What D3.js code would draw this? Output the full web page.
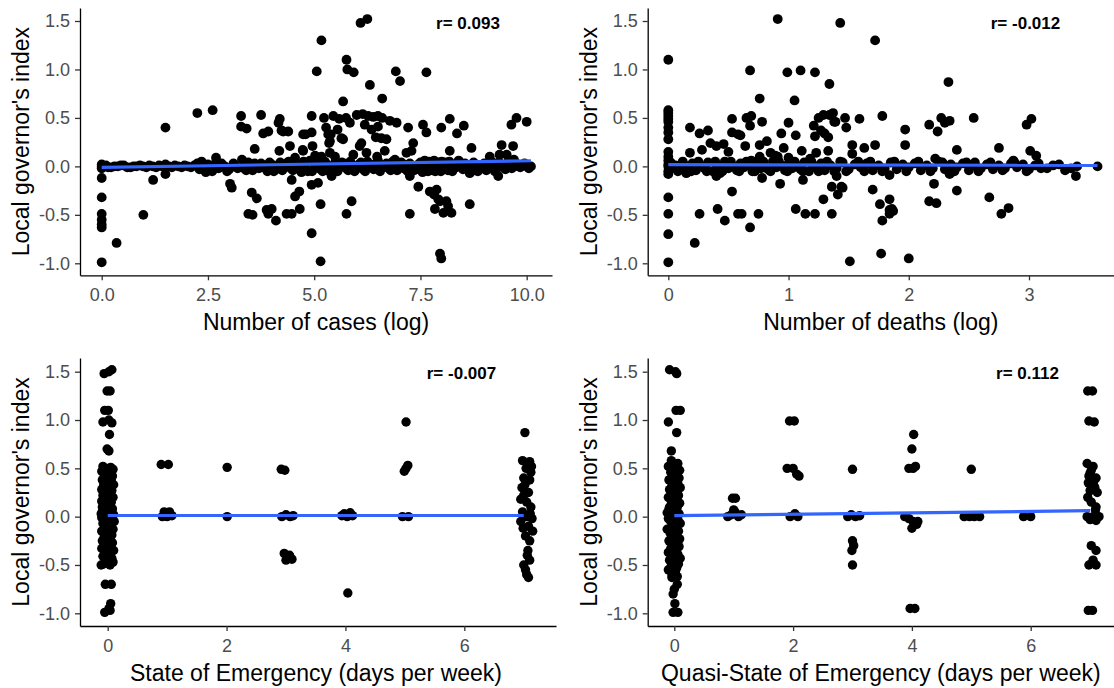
<!DOCTYPE html>
<html><head><meta charset="utf-8">
<script src="https://cdn.jsdelivr.net/npm/d3@7"></script>
<style>body{margin:0;background:#fff} text{font-family:"Liberation Sans",Arial,sans-serif}</style>
</head><body><svg id="c" width="1114" height="688"></svg>
<script>
// ---------- DATA ----------
const yTicks = [-1, -0.5, 0, 0.5, 1, 1.5];
const yTickLabels = ["-1.0", "-0.5", "0.0", "0.5", "1.0", "1.5"];
const xTicks1 = [0, 2.5, 5, 7.5, 10];
const xTickLabels1 = ["0.0", "2.5", "5.0", "7.5", "10.0"];
const xTicks2 = [0, 1, 2, 3];
const xTickLabels2 = ["0", "1", "2", "3"];
const xTicks34 = [0, 2, 4, 6];
const xTickLabels34 = ["0", "2", "4", "6"];
const xTitles = ["Number of cases (log)", "Number of deaths (log)", "State of Emergency (days per week)", "Quasi-State of Emergency (days per week)"];
const yTitle = "Local governor's index";
const rLabels = ["r= 0.093", "r= -0.012", "r= -0.007", "r= 0.112"];

// fitted lm lines [x, y] endpoints
const fit1 = [[0, -0.01], [10.1, 0.058]];
const fit2 = [[0, 0.018], [3.57, 0.01]];
const fit3 = [[0, 0.012], [7.0, 0.012]];
const fit4 = [[0, 0.01], [7.0, 0.062]];

// Panel 1: cases (log)
const p1Points = [
[0,-0.12],[0,-0.32],[0,-0.49],[0,-0.55],[0,-0.6],[0,-0.63],[0,-0.99],
[0.35,-0.79],[0.98,-0.5],[1.21,-0.14],[1.5,0.4],[1.5,-0.08],
[2.25,0.55],[2.61,0.58],[2.69,0.09],[3.02,-0.18],[3.06,-0.22],
[3.28,0.52],[3.28,0.41],[3.41,0.39],[3.45,-0.49],[3.55,-0.5],
[3.53,-0.27],[3.65,-0.33],[3.6,0.18],[3.75,0.53],[3.8,0.34],[3.92,0.36],
[3.88,-0.45],[3.92,-0.49],[4.0,-0.44],[4.1,-0.56],
[4.19,0.49],[4.16,0.45],[4.23,0.37],[4.39,0.36],[4.43,0.21],[4.18,0.16],[4.55,0.09],[4.73,0.17],[4.74,0.33],[4.74,0.16],[4.8,0.33],[4.94,0.35],[4.94,0.52],[4.96,0.21],[5.02,0.11],
[5.06,0.98],[5.17,1.3],[5.23,0.5],[5.39,0.33],[5.35,0.24],[5.45,0.52],[5.59,0.49],[5.75,0.5],[5.49,0.10],[5.68,0.67],[5.68,0.28],[5.76,1.10],[5.78,1.0],[5.93,0.97],[5.88,-0.36],[5.76,-0.49],[5.92,0.12],[6.11,0.24],[6.07,0.21],[6.09,1.48],[6.25,1.52],[6.31,0.84],[6.0,0.53],[6.14,0.54],[6.27,0.52],[6.39,0.51],[5.84,0.45],[6.19,0.43],[6.6,0.70],
[4.94,-0.19],[5.15,-0.39],[4.94,-0.69],[5.15,-0.98],[4.66,-0.44],[4.55,-0.31],[4.65,-0.26],[4.35,-0.49],[4.47,-0.49],[4.47,-0.14],[5.09,-0.17],[5.41,-0.10],
[6.92,0.98],[7.02,0.88],[7.64,0.97],[6.5,0.52],[6.6,0.5],[6.78,0.47],[6.94,0.45],[6.5,0.41],[6.58,0.29],[6.7,0.28],[7.21,0.40],[7.56,0.43],[7.64,0.35],[7.99,0.40],[8.19,0.49],[8.36,0.34],[8.52,0.42],[7.33,0.24],[7.17,0.14],[7.29,0.16],[8.19,0.16],[8.7,0.19],[9.41,0.22],[9.53,0.12],[9.68,0.21],[9.64,0.43],[9.76,0.50],[10.0,0.46],[9.33,-0.10],[8.66,-0.07],[8.66,-0.39],[7.25,-0.10],[7.45,-0.21],[7.25,-0.49],[7.72,-0.26],[7.82,-0.29],[7.88,-0.24],[7.84,-0.44],[7.92,-0.34],[7.96,-0.36],[8.04,-0.48],[8.15,-0.41],[8.23,-0.48],[8.11,-0.36],[7.96,-0.90],[7.99,-0.95],
[5.33,0.33],[5.37,0.26],[5.64,0.29],[5.37,0.14],[5.17,0.10],[6.48,0.10],[6.66,0.16],[6.9,0.07],[6.23,0.14],[9.13,0.10],[9.36,0.12],[4.27,0.36],[5.28,0.4],[5.55,0.38],[6.35,0.38],[6.45,0.3]
];
const p1Band = [
[0,0.02],[0,0],[0,-0.02],[0.05,0.0],[0.15,-0.01],[0.3,0.0],[0.45,0.01],[0.6,-0.01],[0.75,0.0],[0.9,0.01],[1.05,-0.01],[1.2,0.0],[1.35,0.01],[1.5,0.02],[1.65,-0.01],[1.8,0.0],[1.95,0.01],[2.1,-0.01],[2.25,0.03],[2.35,0.05],[2.45,-0.06],[2.55,-0.03],[2.65,0.02],[2.75,-0.02],[2.9,0.0],[3.0,-0.03],[3.1,0.03],[3.2,-0.02],[3.3,0.07],[3.4,-0.04],[3.5,0.0],[3.6,0.03],[3.7,-0.02],[3.8,0.01],[3.9,-0.05],[4.0,0.02],[4.1,-0.03],[4.2,0.04],[4.3,-0.01],[4.4,0.05],[4.5,-0.04],[4.6,0.01],[4.7,-0.06],[4.8,0.03],[4.85,-0.05],[4.9,0.06],[5.0,-0.02],[5.1,0.04],[5.2,-0.05],[5.3,0.02],[5.4,-0.03],[5.5,0.05],[5.6,-0.01],[5.7,0.03],[5.8,-0.04],[5.9,0.01],[6.0,-0.02],[6.1,0.04],[6.2,-0.05],[6.3,0.02],[6.4,-0.03],[6.5,0.06],[6.6,-0.01],[6.7,0.03],[6.8,-0.04],[6.9,0.01],[7.0,-0.02],[7.1,0.02],[7.2,-0.05],[7.3,0.0],[7.4,-0.03],[7.5,0.04],[7.55,-0.06],[7.6,0.06],[7.65,-0.04],[7.7,0.05],[7.75,-0.02],[7.8,0.03],[7.85,-0.05],[7.9,0.02],[7.95,-0.03],[8.0,0.05],[8.05,-0.01],[8.1,0.03],[8.15,-0.04],[8.2,0.01],[8.3,-0.02],[8.4,0.06],[8.5,-0.03],[8.6,0.0],[8.7,-0.05],[8.8,0.02],[8.9,-0.02],[9.0,0.03],[9.1,-0.01],[9.2,0.04],[9.3,-0.02],[9.4,0.01],[9.5,-0.03],[9.6,0.02],[9.7,0.07],[9.8,0.0],[9.9,0.01],[10.0,0.0],[10.1,0.0]
];
const p1Band2 = [
[0.1,0.01],[0.22,-0.01],[0.38,0.0],[0.52,0.01],[0.68,-0.01],[0.82,0.0],[0.97,0.0],[1.12,0.01],[1.28,-0.01],[1.42,0.0],[1.58,0.0],[1.72,0.01],[1.88,-0.01],[2.02,0.0],[2.18,0.01],[2.3,-0.03],[2.5,0.02],[2.6,-0.05],[2.82,0.03],[2.95,-0.05],[3.15,0.0],[3.35,-0.02],[3.45,0.04],[3.55,-0.04],[3.75,0.03],[3.85,-0.02],[3.95,0.04],[4.05,-0.05],[4.15,0.01],[4.25,-0.04],[4.35,0.03],[4.45,-0.02],[4.55,0.03],[4.65,-0.03],[4.75,0.05],[4.95,-0.05],[5.05,0.03],[5.15,-0.03],[5.25,0.05],[5.35,-0.05],[5.45,0.0],[5.55,-0.05],[5.65,0.04],[5.75,-0.02],[5.85,0.05],[5.95,-0.05],[6.05,0.02],[6.15,-0.03],[6.25,0.05],[6.35,-0.01],[6.45,0.03],[6.55,-0.05],[6.65,0.01],[6.75,-0.02],[6.85,0.05],[6.95,-0.04],[7.05,0.04],[7.15,-0.03],[7.25,0.03],[7.35,-0.04],[7.45,0.02],[7.52,0.0],[7.58,-0.02],[7.62,0.02],[7.68,-0.05],[7.72,0.01],[7.78,-0.04],[7.82,0.06],[7.88,-0.01],[7.92,0.04],[7.98,-0.05],[8.02,0.01],[8.08,0.04],[8.12,-0.02],[8.18,0.05],[8.25,-0.05],[8.35,0.03],[8.45,-0.01],[8.55,0.03],[8.65,-0.03],[8.75,0.04],[8.85,-0.05],[8.95,0.01],[9.05,-0.04],[9.15,0.02],[9.25,-0.05],[9.35,0.04],[9.45,-0.01],[9.55,0.04],[9.65,-0.02],[9.75,0.03],[9.85,-0.01],[9.95,0.03],[10.05,-0.02]
];

// Panel 2: deaths (log)
const p2Points = [
[0,1.1],[0,0.58],[0,0.55],[0,0.52],[0,0.49],[0,0.46],[0,0.4],[0,0.35],[0,0.28],[0,0.15],[0,0.1],[0,0.06],[0,-0.05],[0,-0.08],[0,-0.32],[0,-0.49],[0,-0.7],[0,-0.99],
[0.18,0.40],[0.18,0.14],[0.22,-0.79],[0.15,-0.07],[0.26,0.34],[0.33,0.37],[0.28,0.17],[0.35,0.24],[0.26,-0.49],[0.41,-0.44],[0.47,-0.56],[0.40,0.21],[0.46,0.23],[0.53,0.49],[0.53,0.35],[0.58,0.33],[0.6,0.32],[0.53,-0.26],[0.58,-0.49],[0.61,-0.49],[0.64,0.21],[0.65,0.50],[0.69,0.52],[0.68,0.42],[0.68,0.99],[0.68,-0.63],[0.76,0.70],[0.78,0.46],[0.75,-0.49],[0.82,0.26],[0.76,0.22],[0.76,0.10],[0.69,0.06],[0.89,0.11],[0.91,1.52],[0.93,-0.18],[0.94,0.34],[0.99,0.97],[1.10,0.99],[1.22,0.97],[1.05,0.68],[1.0,0.45],[1.06,0.32],[0.96,0.19],[1.06,-0.44],[1.14,-0.49],[1.22,-0.49],[1.11,0.16],[1.12,-0.14],[0.91,0.10],[1.0,0.09],[1.21,0.42],[1.25,0.50],[1.22,0.31],[1.23,0.14],[1.29,-0.34],[1.34,0.85],[1.36,-0.49],[1.29,0.53],[1.34,0.53],[1.37,0.55],[1.36,-0.21],[1.27,0.37],[1.30,0.34],[1.33,0.30],[1.33,0.16],[1.39,0.46],[1.47,0.50],[1.48,0.40],[1.59,0.49],[1.53,0.22],[1.53,0.13],[1.63,0.19],[1.72,0.22],[1.78,0.52],[1.41,-0.29],[1.44,-0.21],[1.40,-0.10],[1.51,-0.98],[1.70,-0.24],[1.76,-0.39],[1.78,-0.56],[1.77,-0.90],[1.84,-0.34],[1.84,-0.45],[1.87,-0.46],[1.84,-0.49],[1.84,-0.09],[0.40,-0.10],[0.43,-0.07],[0.78,-0.12],[1.43,1.48],[1.72,1.30],[2.33,0.87],[1.97,0.38],[1.97,0.22],[2.17,0.43],[2.24,0.36],[2.27,0.50],[2.30,0.45],[2.34,0.47],[2.54,0.50],[2.40,0.17],[2.75,0.19],[2.98,0.43],[3.02,0.49],[3.01,0.16],[3.06,0.11],[2.87,0.06],[2.0,-0.95],[2.21,-0.18],[2.17,-0.36],[2.23,-0.38],[2.40,-0.25],[2.67,-0.32],[2.77,-0.49],[2.83,-0.43],[3.39,-0.10],[3.57,0.0],[1.86,-0.44],[2.34,-0.08],[1.45,-0.22],[1.38,0.46],[0.5,0.15],[0.85,0.14],[1.18,0.08],[2.22,0.08],[2.55,0.04]
];
const p2Band = [
[0,0.0],[0,0.02],[0.03,-0.02],[0.06,0.01],[0.1,-0.03],[0.13,0.02],[0.17,-0.01],[0.2,0.03],[0.23,-0.04],[0.27,0.01],[0.3,-0.02],[0.33,0.04],[0.37,-0.05],[0.4,0.02],[0.43,-0.03],[0.47,0.05],[0.5,-0.02],[0.53,0.01],[0.57,-0.04],[0.6,0.03],[0.63,-0.01],[0.67,0.02],[0.7,-0.05],[0.73,0.04],[0.77,-0.02],[0.8,0.01],[0.83,-0.03],[0.87,0.05],[0.9,-0.01],[0.93,0.02],[0.97,-0.04],[1.0,0.03],[1.03,-0.02],[1.07,0.01],[1.1,-0.03],[1.13,0.04],[1.17,-0.05],[1.2,0.02],[1.23,-0.01],[1.27,0.03],[1.3,-0.04],[1.35,0.01],[1.4,-0.02],[1.45,0.04],[1.5,-0.03],[1.55,0.02],[1.6,-0.01],[1.65,0.03],[1.7,-0.04],[1.75,0.01],[1.8,-0.02],[1.85,0.04],[1.9,-0.03],[1.95,0.02],[2.0,-0.01],[2.05,0.03],[2.1,-0.04],[2.15,0.01],[2.2,-0.02],[2.25,0.05],[2.3,-0.03],[2.35,0.02],[2.4,-0.01],[2.45,0.03],[2.5,-0.04],[2.55,0.01],[2.6,-0.02],[2.65,0.02],[2.7,-0.03],[2.75,0.01],[2.8,-0.02],[2.85,0.03],[2.9,-0.01],[2.95,0.02],[3.0,-0.03],[3.05,0.01],[3.1,-0.02],[3.2,0.01],[3.3,-0.04],[3.4,0.0]
];
const p2Band2 = [
[0.02,0.04],[0.08,-0.05],[0.12,0.05],[0.19,-0.05],[0.25,0.05],[0.32,-0.05],[0.39,0.05],[0.45,-0.05],[0.52,0.05],[0.59,-0.05],[0.65,0.05],[0.72,-0.05],[0.79,0.05],[0.85,-0.05],[0.92,0.05],[0.99,-0.05],[1.05,0.05],[1.12,-0.05],[1.19,0.05],[1.25,-0.05],[1.32,0.05],[1.38,-0.05],[1.43,0.05],[1.48,-0.05],[1.58,0.05],[1.63,-0.05],[1.68,0.05],[1.78,-0.05],[1.88,0.05],[1.98,-0.05],[2.08,0.05],[2.18,-0.05],[2.28,0.04],[2.38,-0.05],[2.48,0.04],[2.58,-0.05],[2.68,0.04],[2.78,-0.04],[2.88,0.04],[2.98,-0.05],[3.08,0.03],[3.15,-0.02],[3.25,0.02],[3.35,-0.02]
];

// Panel 3: State of Emergency (jittered)
const p3Points = [
[-0.06,1.48],[0.02,1.5],[0.07,1.52],[-0.01,1.3],[0.04,1.3],[-0.05,1.1],[0.01,1.1],[-0.08,0.98],[0.02,1.0],[0.07,0.97],[0.03,0.85],[0.02,0.68],[-0.01,0.7],[-0.04,-0.7],[0.06,-0.7],[0.05,-0.9],[0.02,-0.95],[-0.05,-0.99],[0.04,-0.97],
[0.9,0.54],[1.02,0.54],[0.92,0.0],[0.98,0.02],[1.04,0.05],[1.08,0.01],[0.95,0.05],[1.0,0.0],
[2.01,0.51],[2.01,0.0],
[2.92,0.49],[2.98,0.48],[2.93,0.0],[3.0,0.02],[3.07,0.0],[3.12,0.01],[2.97,-0.38],[3.06,-0.4],[3.0,-0.45],[3.1,-0.44],
[3.94,0.01],[3.98,0.03],[4.03,0.0],[4.08,0.04],[4.12,0.01],[4.04,-0.79],
[5.02,0.98],[5.05,0.53],[4.99,0.47],[5.02,0.5],[4.96,0.0],[5.06,0.0],
[7.02,0.87],[6.98,0.58],[7.1,0.57],[7.04,0.5],[7.12,0.46],[7.0,0.4],[7.1,0.38],[6.97,0.3],[7.08,0.25],[6.95,0.18],[7.05,0.15],[7.12,0.1],[6.98,0.05],[7.05,0.0],[7.14,-0.02],[6.95,-0.05],[7.08,-0.1],[7.15,-0.15],[7.03,-0.2],[7.1,-0.25],[7.07,-0.35],[7.1,-0.45],[7.03,-0.55],[7.05,-0.6],[7.08,-0.63],
[7.0,0.22],[7.11,0.03],[6.99,-0.12],[7.13,0.52],[7.02,0.33],[7.06,-0.4],[7.0,-0.5]
];
const p3Column = [
[-0.08,0.52],[0.05,0.51],[-0.02,0.5],[0.09,0.49],[-0.1,0.47],[0.03,0.46],[-0.06,0.44],[0.08,0.42],[0.0,0.4],[-0.09,0.38],[0.06,0.37],[-0.03,0.35],[0.1,0.33],[-0.07,0.32],[0.02,0.3],[-0.1,0.28],[0.07,0.27],[-0.04,0.25],[0.04,0.23],[-0.08,0.22],[0.09,0.2],[-0.01,0.18],[-0.1,0.16],[0.06,0.15],[-0.05,0.13],[0.03,0.11],[-0.09,0.1],[0.08,0.08],[-0.03,0.06],[0.05,0.05],[-0.11,0.03],[0.1,0.02],[-0.06,0.01],[0.02,0.0],[-0.1,-0.01],[0.07,-0.02],[-0.02,-0.04],[0.11,-0.05],[-0.08,-0.07],[0.04,-0.09],[-0.05,-0.11],[0.09,-0.13],[-0.1,-0.15],[0.01,-0.17],[0.07,-0.19],[-0.06,-0.21],[0.03,-0.23],[-0.09,-0.25],[0.08,-0.27],[-0.03,-0.29],[0.05,-0.31],[-0.1,-0.33],[0.1,-0.35],[-0.05,-0.37],[0.02,-0.39],[-0.08,-0.41],[0.07,-0.43],[-0.02,-0.45],[0.09,-0.47],[-0.07,-0.49],[0.04,-0.5],[-0.11,-0.5],
[0.0,0.48],[0.01,0.36],[0.0,0.21],[0.02,0.09],[-0.01,-0.03],[0.0,-0.16],[-0.02,-0.28],[0.01,-0.4],
[-0.06,0.0],[0.06,0.03],[-0.04,0.02],[0.04,-0.01],[-0.09,0.05],[0.08,-0.03]
];

// Panel 4: Quasi-State of Emergency (jittered)
const p4Points = [
[-0.08,1.52],[0.02,1.5],[0.04,1.48],[0.1,1.1],[0.03,1.1],[-0.1,0.98],[0.04,0.87],[-0.05,0.68],[-0.04,-0.63],[0.05,-0.7],[-0.02,-0.8],[0.01,-0.9],[0.06,-0.99],[-0.02,-0.99],[0.0,-0.75],
[0.98,0.19],[1.03,0.19],[0.9,0.0],[0.96,0.02],[1.02,0.05],[1.08,0.0],[1.13,0.02],[1.0,0.07],
[1.94,0.99],[2.02,0.99],[1.9,0.5],[2.0,0.5],[2.06,0.44],[2.1,0.42],[1.95,0.0],[2.03,0.03],[2.08,0.0],
[3.0,0.49],[2.92,0.0],[2.98,0.02],[3.05,0.0],[3.12,0.01],[3.0,-0.25],[3.02,-0.3],[2.99,-0.35],[3.0,-0.5],
[4.03,0.85],[4.0,0.7],[3.95,0.5],[4.02,0.5],[4.06,0.52],[3.88,0.0],[3.95,-0.02],[4.02,-0.05],[4.08,-0.08],[4.0,-0.12],[4.1,-0.05],[3.97,-0.95],[4.05,-0.95],
[5.0,0.49],[4.88,0.0],[4.97,0.0],[5.05,0.0],[5.14,0.0],
[5.88,0.0],[6.0,0.0],
[6.96,1.3],[7.04,1.3],[6.98,0.99],[7.07,0.98],[6.95,0.55],[7.05,0.52],[7.0,0.45],[7.1,0.4],[6.97,0.35],[7.08,0.3],[7.12,0.25],[6.96,0.2],[7.02,0.15],[7.1,0.1],[6.95,0.0],[7.05,0.0],[7.15,0.0],[7.0,-0.03],[7.1,-0.04],[7.02,-0.3],[7.1,-0.35],[7.05,-0.45],[6.98,-0.5],[7.1,-0.5],[6.97,-0.97],[7.04,-0.97],
[7.02,0.48],[6.98,0.42],[7.06,0.36],[7.0,0.27],[7.09,0.07]
];
const p4Column = [
[-0.05,0.58],[0.06,0.55],[-0.1,0.52],[0.02,0.5],[0.09,0.48],[-0.06,0.46],[0.04,0.44],[-0.02,0.42],[0.08,0.4],[-0.09,0.38],[0.01,0.36],[0.06,0.34],[-0.04,0.32],[0.1,0.3],[-0.08,0.28],[0.03,0.26],[-0.01,0.24],[0.07,0.22],[-0.1,0.2],[0.04,0.18],[-0.05,0.16],[0.09,0.14],[-0.02,0.12],[0.05,0.1],[-0.09,0.08],[0.02,0.06],[-0.12,0.04],[0.08,0.03],[-0.04,0.02],[0.0,0.0],[-0.1,-0.02],[0.06,-0.03],[-0.06,-0.05],[0.1,-0.07],[-0.02,-0.09],[0.04,-0.11],[-0.12,-0.13],[0.07,-0.15],[-0.07,-0.17],[0.02,-0.19],[-0.03,-0.21],[0.09,-0.23],[-0.09,-0.25],[0.05,-0.27],[-0.01,-0.29],[0.08,-0.31],[-0.06,-0.33],[0.03,-0.35],[-0.1,-0.37],[0.06,-0.39],[-0.03,-0.41],[0.1,-0.43],[-0.08,-0.45],[0.01,-0.47],[0.07,-0.49],[-0.05,-0.51],[0.04,-0.53],[-0.1,-0.55],[0.02,-0.57],[-0.04,-0.6],[0.05,-0.62],
[0.0,0.52],[0.01,0.38],[-0.01,0.25],[0.0,0.13],[0.02,-0.01],[-0.01,-0.12],[0.0,-0.24],[0.01,-0.36],[-0.02,-0.48],
[-0.07,0.0],[0.07,0.02],[-0.04,-0.01],[0.04,0.05],[-0.08,0.1],[0.05,-0.05]
];

// ---------- DRAW ----------
const svg = d3.select('#c');
svg.append('rect').attr('width', 1114).attr('height', 688).attr('fill', '#fff');

const panels = [
  {pts: p1Points.concat(p1Band, p1Band2), fit: fit1, xt: xTicks1, xl: xTickLabels1, title: xTitles[0], r: rLabels[0],
   box: {x0: 80, x1: 552, y0: 8, y1: 275.3}, xa: [0, 10], xr: [101.7, 526.7], ya: [-1, 1.5], yr: [263.3, 21], rp: [468, 29], rad: 4.9},
  {pts: p2Points.concat(p2Band, p2Band2), fit: fit2, xt: xTicks2, xl: xTickLabels2, title: xTitles[1], r: rLabels[1],
   box: {x0: 647.7, x1: 1114, y0: 8, y1: 275.3}, xa: [0, 3], xr: [668.3, 1029], ya: [-1, 1.5], yr: [263.3, 21], rp: [1025.5, 29], rad: 4.9},
  {pts: p3Points.concat(p3Column), fit: fit3, xt: xTicks34, xl: xTickLabels34, title: xTitles[2], r: rLabels[2],
   box: {x0: 80, x1: 556, y0: 358, y1: 626}, xa: [0, 6], xr: [107.7, 464.3], ya: [-1, 1.5], yr: [613.3, 371.7], rp: [461.5, 379], rad: 4.7},
  {pts: p4Points.concat(p4Column), fit: fit4, xt: xTicks34, xl: xTickLabels34, title: xTitles[3], r: rLabels[3],
   box: {x0: 647.7, x1: 1114, y0: 358, y1: 626}, xa: [0, 6], xr: [674.3, 1030.7], ya: [-1, 1.5], yr: [613.3, 371.7], rp: [1027.5, 379], rad: 4.7}
];

panels.forEach(p => {
  const b = p.box;
  const x = d3.scaleLinear().domain(p.xa).range(p.xr);
  const y = d3.scaleLinear().domain(p.ya).range(p.yr);
  x.domain([x.invert(b.x0), x.invert(b.x1)]).range([b.x0, b.x1]);
  y.domain([y.invert(b.y1), y.invert(b.y0)]).range([b.y1, b.y0]);

  const g = svg.append('g');
  g.selectAll('circle').data(p.pts).join('circle')
    .attr('cx', d => x(d[0])).attr('cy', d => y(d[1]))
    .attr('r', p.rad).attr('fill', '#000');

  g.append('path').datum(p.fit)
    .attr('d', d3.line().x(d => x(d[0])).y(d => y(d[1])))
    .attr('stroke', '#3366FF').attr('stroke-width', 3.2).attr('fill', 'none');

  const ax = g.append('g').attr('transform', `translate(0,${b.y1})`)
    .call(d3.axisBottom(x).tickValues(p.xt).tickFormat((d, i) => p.xl[i]).tickSize(5).tickSizeOuter(0).tickPadding(8));
  const ay = g.append('g').attr('transform', `translate(${b.x0},0)`)
    .call(d3.axisLeft(y).tickValues(yTicks).tickFormat((d, i) => yTickLabels[i]).tickSize(5).tickSizeOuter(0).tickPadding(5));
  [ax, ay].forEach(a => {
    a.select('.domain').attr('stroke', '#000').attr('stroke-width', 1.3);
    a.selectAll('.tick line').attr('stroke', '#333').attr('stroke-width', 1.3);
    a.selectAll('.tick text').attr('fill', '#4D4D4D').style('font-size', '18px')
      .style('font-family', '"Liberation Sans", Arial, sans-serif');
  });

  g.append('text').attr('x', (b.x0 + Math.min(b.x1, b.x0 + 472)) / 2).attr('y', b.y1 + 55)
    .attr('text-anchor', 'middle').style('font-size', '23px').attr('fill', '#000').text(p.title);
  g.append('text').attr('transform', `translate(${b.x0 - 51},${(b.y0 + b.y1) / 2}) rotate(-90)`)
    .attr('text-anchor', 'middle').style('font-size', '23px').attr('fill', '#000').text(yTitle);
  g.append('text').attr('x', p.rp[0]).attr('y', p.rp[1]).attr('text-anchor', 'middle')
    .style('font-size', '17px').style('font-weight', 'bold').attr('fill', '#000').text(p.r);
});
</script></body></html>
